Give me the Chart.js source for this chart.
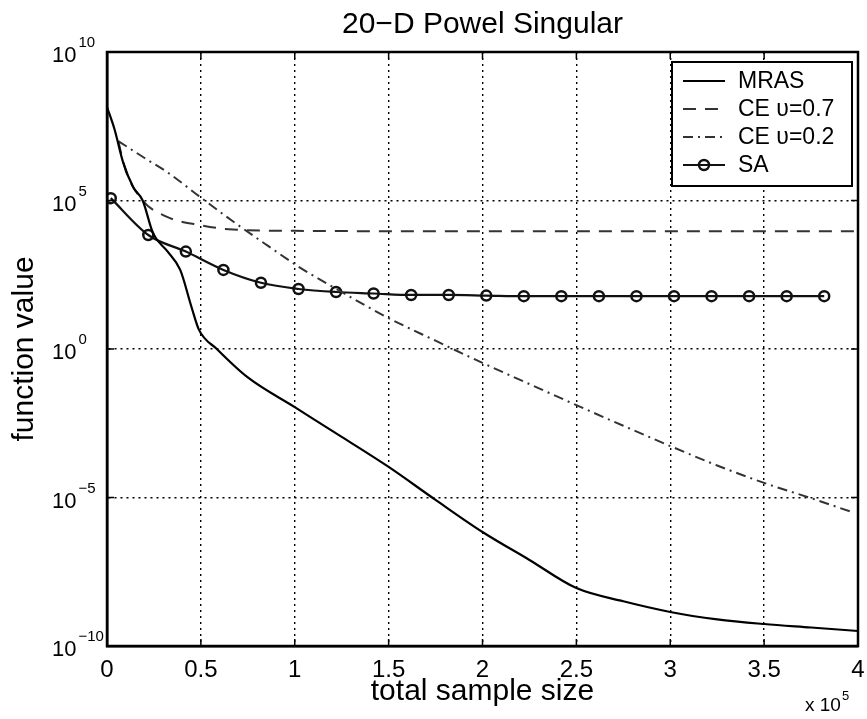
<!DOCTYPE html>
<html>
<head>
<meta charset="utf-8">
<script src="https://cdn.jsdelivr.net/npm/chart.js@4.4.1/dist/chart.umd.min.js"></script>
<style>
  html, body { margin: 0; padding: 0; background: #fff; }
  #wrap { width: 867px; height: 719px; }
</style>
</head>
<body>
<div id="wrap"><canvas id="chart" width="867" height="719"></canvas></div>
<script>
// x values are total sample size in units of 1e5
const mrasX = [0, 0.04, 0.085, 0.14, 0.19, 0.245, 0.32, 0.39, 0.45, 0.49, 0.585, 0.75, 1.0, 1.25, 1.5, 1.75, 2.0, 2.25, 2.5, 2.75, 3.0, 3.25, 3.5, 3.75, 4.0]
const mrasY = [1.4e8, 2.5e7, 2e6, 2.8e5, 1e5, 8e3, 2e3, 4.6e2, 26, 4.4, 1, 0.11, 0.011, 1.1e-3, 1.07e-4, 8.3e-6, 6.9e-7, 7.9e-8, 8.9e-9, 3.2e-9, 1.4e-9, 7.9e-10, 5.5e-10, 4.2e-10, 3.2e-10]

const ce07X = [0.06, 0.1, 0.19, 0.32, 0.49, 0.67, 1.0, 1.5, 2.0, 3.0, 4.0]
const ce07Y = [1e7, 1e6, 1e5, 2.8e4, 1.5e4, 1.05e4, 9.5e3, 9.3e3, 9.3e3, 9.3e3, 9.3e3]

const ce02X = [0.06, 0.2, 0.32, 0.49, 0.67, 0.85, 1.03, 1.25, 1.5, 1.75, 2.0, 2.25, 2.5, 2.75, 3.0, 3.25, 3.5, 3.75, 3.97]
const ce02Y = [1e7, 2.7e6, 9.1e5, 1.4e5, 2.0e4, 3.2e3, 5.4e2, 83, 11, 1.9, 0.34, 0.066, 0.0129, 2.6e-3, 5.4e-4, 1.2e-4, 3.1e-5, 9.5e-6, 3.2e-6]

const saX = [0.02, 0.22, 0.42, 0.62, 0.82, 1.02, 1.22, 1.42, 1.62, 1.82, 2.02, 2.22, 2.42, 2.62, 2.82, 3.02, 3.22, 3.42, 3.62, 3.82]
const saY = [1.2e5, 6.9e3, 1.9e3, 4.6e2, 1.7e2, 1.05e2, 83, 74, 66, 66, 63, 60, 60, 60, 60, 60, 60, 60, 60, 60]

const xTickLabels = ['0', '0.5', '1', '1.5', '2', '2.5', '3', '3.5', '4']
const yTickValues = [1e-10, 1e-5, 1, 1e5, 1e10]
const yTickExps = ['−10', '−5', '0', '5', '10']

const FONT = "'Liberation Sans', Arial, Helvetica, sans-serif"

function toPoints(xs, ys) {
    return xs.map((x, i) => ({x: x, y: ys[i]}))
}

// box, inside tick marks, 10^n labels, legend and the x 10^5 multiplier
const matlabFrame = {
    id: 'matlabFrame',
    afterDatasetsDraw(chart) {
        const ctx = chart.ctx
        const area = chart.chartArea
        const xs = chart.scales.x
        const ys = chart.scales.y
        ctx.save()
        ctx.strokeStyle = '#000'
        ctx.lineWidth = 1.5
        ctx.setLineDash([])
        ctx.beginPath()
        xs.ticks.forEach(t => {
            const px = xs.getPixelForValue(t.value)
            ctx.moveTo(px, area.bottom); ctx.lineTo(px, area.bottom - 7)
            ctx.moveTo(px, area.top); ctx.lineTo(px, area.top + 7)
        })
        ys.ticks.forEach(t => {
            const py = ys.getPixelForValue(t.value)
            ctx.moveTo(area.left, py); ctx.lineTo(area.left + 7, py)
            ctx.moveTo(area.right, py); ctx.lineTo(area.right - 7, py)
        })
        ctx.stroke()
        ctx.lineWidth = 2.5
        ctx.strokeRect(area.left, area.top, area.right - area.left, area.bottom - area.top)

        // y tick labels as 10 with a raised exponent
        ctx.fillStyle = '#000'
        ctx.textBaseline = 'middle'
        ctx.textAlign = 'left'
        yTickValues.forEach((v, i) => {
            const py = ys.getPixelForValue(v)
            ctx.font = '22px ' + FONT
            ctx.fillText('10', 52, py + 4)
            const w = ctx.measureText('10').width
            ctx.font = '15px ' + FONT
            ctx.fillText(yTickExps[i], 52 + w + 2, py - 9)
        })

        // legend
        const bx = area.right - 186, by = area.top + 10, bw = 180, bh = 124
        ctx.fillStyle = '#fff'
        ctx.fillRect(bx, by, bw, bh)
        ctx.lineWidth = 2
        ctx.strokeRect(bx, by, bw, bh)
        ctx.font = '23px ' + FONT
        chart.data.datasets.forEach((ds, i) => {
            const ly = by + 19 + i * 28
            ctx.strokeStyle = ds.borderColor
            ctx.lineWidth = ds.borderWidth
            ctx.setLineDash(ds.borderDash || [])
            ctx.beginPath()
            ctx.moveTo(bx + 11, ly); ctx.lineTo(bx + 53, ly)
            ctx.stroke()
            if (ds.pointRadius > 0) {
                ctx.setLineDash([])
                ctx.lineWidth = ds.pointBorderWidth
                ctx.beginPath()
                ctx.arc(bx + 32, ly, ds.pointRadius, 0, Math.PI * 2)
                ctx.stroke()
            }
            ctx.fillStyle = '#000'
            ctx.fillText(ds.label, bx + 66, ly + 1)
        })

        // x 10^5
        ctx.textBaseline = 'alphabetic'
        ctx.font = '19px ' + FONT
        ctx.fillText('x 10', area.right - 53, 711)
        const mw = ctx.measureText('x 10').width
        ctx.font = '13px ' + FONT
        ctx.fillText('5', area.right - 53 + mw + 1, 700)
        ctx.restore()
    }
}

const config = {
    type: 'line',
    data: {
        datasets: [{
            label: 'MRAS',
            data: toPoints(mrasX, mrasY),
            borderColor: '#000',
            borderWidth: 2.2,
            pointRadius: 0,
            cubicInterpolationMode: 'monotone'
        }, {
            label: 'CE υ=0.7',
            data: toPoints(ce07X, ce07Y),
            borderColor: '#333',
            borderWidth: 2,
            borderDash: [13, 9],
            pointRadius: 0,
            cubicInterpolationMode: 'monotone'
        }, {
            label: 'CE υ=0.2',
            data: toPoints(ce02X, ce02Y),
            borderColor: '#333',
            borderWidth: 2,
            borderDash: [10, 5, 2, 5],
            pointRadius: 0,
            cubicInterpolationMode: 'monotone'
        }, {
            label: 'SA',
            data: toPoints(saX, saY),
            borderColor: '#111',
            borderWidth: 2.2,
            pointRadius: 5,
            pointBorderWidth: 2.5,
            pointBorderColor: '#111',
            pointBackgroundColor: 'rgba(0,0,0,0)',
            cubicInterpolationMode: 'monotone'
        }]
    },
    options: {
        responsive: false,
        animation: false,
        layout: { padding: { left: 0, right: 9, top: 0, bottom: 0 } },
        scales: {
            x: {
                type: 'linear',
                min: 0,
                max: 4,
                afterFit: function(scale) {
                    scale.height = 73
                    scale.paddingLeft = 0
                    scale.paddingRight = 0
                },
                grid: { color: '#000', lineWidth: 1.4, drawTicks: false },
                border: { display: true, color: '#000', width: 2.5, dash: [2, 4] },
                ticks: {
                    stepSize: 0.5, autoSkip: false, maxRotation: 0, padding: 10,
                    color: '#000', font: { family: FONT, size: 24 },
                    callback: function(value, index) { return xTickLabels[index] }
                },
                title: {
                    display: true, text: 'total sample size', color: '#000',
                    font: { family: FONT, size: 30 }, padding: { top: 0, bottom: 9 }
                }
            },
            y: {
                type: 'logarithmic',
                min: 1e-10,
                max: 1e10,
                afterFit: function(scale) { scale.width = 107 },
                afterBuildTicks: function(scale) {
                    scale.ticks = yTickValues.map(v => ({ value: v }))
                },
                grid: { color: '#000', lineWidth: 1.4, drawTicks: false },
                border: { display: true, color: '#000', width: 2.5, dash: [2, 4] },
                ticks: { display: false },
                title: {
                    display: true, text: 'function value', color: '#000',
                    font: { family: FONT, size: 30 }, padding: { top: 7, bottom: 0 }
                }
            }
        },
        plugins: {
            legend: { display: false },
            tooltip: { enabled: false },
            title: {
                display: true, fullSize: false, text: '20−D Powel Singular', color: '#000',
                font: { family: FONT, size: 30, weight: 'normal' },
                padding: { top: 7, bottom: 9 }
            }
        }
    },
    plugins: [matlabFrame]
}

const chart = new Chart(document.getElementById('chart'), config)
</script>
</body>
</html>
